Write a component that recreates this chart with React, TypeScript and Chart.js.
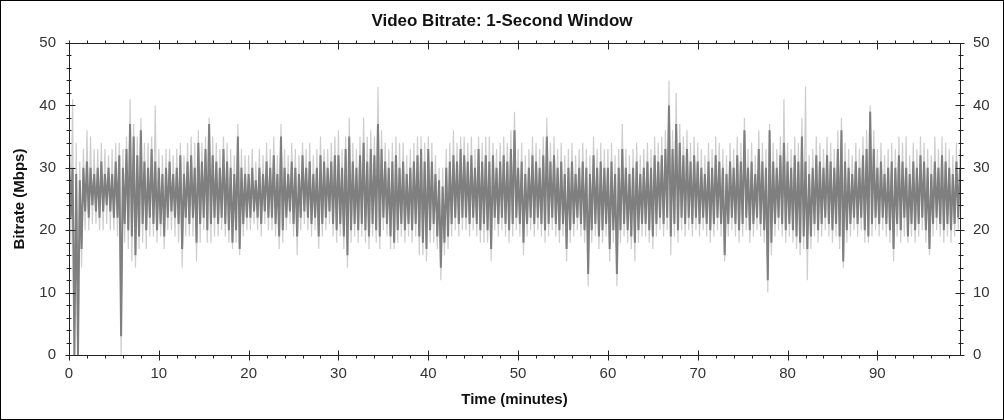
import { useEffect, useRef } from "react";
import { Chart, registerables } from "chart.js";

Chart.register(...registerables);

const TITLE = "Video Bitrate: 1-Second Window";
const X_TITLE = "Time (minutes)";
const Y_TITLE = "Bitrate (Mbps)";
const FONT = "Arial, 'Liberation Sans', Helvetica, sans-serif";

// time step between successive samples (minutes)
const STEP_MIN = 0.4;
const X_MIN = 0;
const X_MAX = 99.2;
const Y_MIN = 0;
const Y_MAX = 50;
const X_MAJOR = 10;
const X_MINOR = 2;
const Y_MAJOR = 10;
const Y_MINOR = 2;

// Dark series: local peaks / troughs (Mbps), one pair every STEP_MIN
const darkHigh = [
  33, 30, 29, 28, 30, 31, 30, 29, 30, 31, 29, 30, 29, 31, 32, 30, 33, 37, 35, 32, 36, 31, 30, 33, 31,
  30, 29, 30, 31, 29, 30, 32, 29, 31, 32, 30, 34, 31, 33, 37, 32, 31, 30, 33, 31, 30, 29, 35, 30, 29,
  29, 30, 28, 30, 29, 31, 30, 32, 29, 35, 30, 29, 31, 30, 29, 32, 30, 31, 29, 30, 32, 31, 30, 31, 32,
  32, 30, 33, 35, 31, 30, 32, 34, 31, 33, 32, 37, 33, 31, 30, 31, 32, 30, 31, 29, 30, 31, 32, 33, 31,
  33, 31, 29, 28, 27, 30, 31, 32, 31, 33, 32, 31, 32, 30, 33, 31, 32, 31, 32, 30, 31, 32, 31, 33, 36,
  30, 31, 29, 30, 32, 31, 30, 32, 35, 31, 32, 30, 31, 29, 30, 31, 29, 30, 31, 30, 29, 32, 30, 31, 30,
  30, 31, 29, 30, 33, 30, 29, 30, 31, 29, 30, 31, 30, 32, 31, 32, 33, 40, 33, 37, 34, 32, 33, 31, 32,
  31, 30, 29, 31, 30, 32, 31, 30, 29, 31, 30, 32, 31, 36, 30, 31, 29, 33, 31, 30, 36, 31, 30, 32, 34,
  31, 30, 32, 31, 35, 31, 29, 30, 32, 31, 30, 32, 31, 30, 33, 36, 31, 30, 29, 31, 30, 32, 33, 39, 33,
  30, 31, 29, 30, 31, 30, 32, 31, 30, 29, 31, 30, 32, 31, 30, 29, 31, 30, 32, 31, 30, 29, 31, 30,
];
const darkLow = [
  22, 0, 0, 17, 23, 22, 24, 23, 22, 23, 24, 23, 22, 22, 3, 21, 20, 19, 16, 19, 21, 20, 22, 21, 20,
  21, 19, 22, 23, 22, 21, 17, 22, 21, 22, 18, 21, 22, 20, 21, 22, 21, 22, 21, 20, 18, 20, 17, 21, 22,
  22, 23, 22, 21, 23, 22, 22, 21, 19, 20, 22, 23, 21, 19, 22, 23, 22, 21, 22, 19, 21, 22, 23, 21, 20,
  21, 19, 16, 20, 21, 20, 21, 20, 19, 21, 20, 19, 22, 21, 19, 18, 20, 21, 20, 21, 20, 21, 19, 18, 17,
  20, 21, 19, 14, 18, 19, 21, 22, 21, 22, 22, 21, 22, 21, 20, 21, 20, 17, 22, 21, 22, 21, 20, 21, 22,
  21, 18, 21, 22, 21, 22, 21, 20, 21, 22, 21, 20, 21, 17, 20, 21, 22, 21, 20, 13, 20, 21, 19, 20, 21,
  17, 20, 13, 20, 21, 20, 19, 18, 20, 21, 21, 20, 19, 21, 22, 21, 22, 19, 21, 20, 22, 21, 22, 21, 22,
  21, 22, 21, 20, 21, 22, 21, 16, 21, 22, 21, 20, 21, 22, 20, 21, 22, 21, 20, 12, 18, 21, 22, 21, 20,
  21, 20, 19, 18, 19, 17, 19, 21, 20, 21, 22, 21, 20, 21, 19, 15, 20, 21, 22, 21, 22, 20, 19, 21, 22,
  21, 22, 21, 20, 17, 21, 20, 22, 19, 21, 20, 21, 22, 20, 17, 21, 22, 21, 20, 21, 20, 21, 22, 21,
];

// Light series: local peaks / troughs (Mbps)
const lightHigh = [
  35, 41, 34, 31, 33, 36, 35, 33, 33, 34, 33, 32, 33, 34, 34, 33, 35, 41, 37, 35, 38, 34, 34, 35, 40,
  33, 32, 33, 33, 32, 33, 34, 32, 34, 35, 34, 36, 34, 35, 38, 35, 34, 33, 35, 34, 33, 32, 37, 33, 32,
  32, 33, 31, 33, 32, 34, 33, 35, 32, 37, 33, 32, 34, 33, 32, 34, 33, 34, 32, 33, 35, 33, 33, 34, 35,
  36, 33, 35, 38, 34, 33, 35, 38, 35, 36, 35, 43, 36, 34, 33, 34, 35, 34, 34, 32, 33, 34, 35, 35, 34,
  35, 34, 32, 30, 30, 33, 34, 36, 34, 35, 35, 34, 35, 33, 35, 34, 35, 35, 34, 33, 34, 35, 34, 36, 39,
  33, 34, 32, 33, 35, 34, 33, 35, 38, 34, 35, 33, 34, 32, 33, 34, 32, 33, 34, 33, 32, 35, 33, 34, 33,
  33, 34, 32, 33, 37, 33, 32, 33, 34, 32, 33, 34, 33, 35, 34, 35, 36, 44, 36, 42, 37, 35, 36, 34, 35,
  34, 33, 32, 34, 33, 35, 34, 33, 32, 34, 33, 35, 34, 38, 33, 34, 32, 36, 34, 33, 37, 34, 33, 35, 41,
  34, 33, 35, 34, 38, 43, 32, 33, 35, 34, 33, 35, 34, 33, 36, 38, 34, 33, 32, 34, 33, 35, 36, 40, 36,
  33, 34, 32, 33, 34, 33, 35, 34, 35, 32, 34, 33, 35, 34, 33, 32, 35, 33, 35, 34, 33, 32, 34, 33,
];
const lightLow = [
  18, 0, 0, 14, 20, 20, 21, 21, 20, 20, 21, 20, 20, 19, 0, 18, 17, 15, 14, 17, 18, 17, 19, 19, 18,
  19, 17, 20, 20, 19, 18, 14, 19, 19, 19, 15, 18, 20, 18, 18, 19, 19, 20, 19, 18, 17, 18, 16, 19, 20,
  20, 21, 20, 19, 21, 20, 20, 19, 17, 18, 20, 21, 19, 16, 20, 21, 20, 19, 20, 17, 19, 20, 21, 19, 18,
  19, 17, 14, 18, 19, 18, 19, 18, 17, 19, 18, 17, 20, 19, 17, 17, 18, 19, 18, 19, 18, 19, 16, 16, 15,
  18, 18, 17, 12, 16, 17, 19, 20, 19, 20, 20, 19, 20, 19, 18, 18, 18, 15, 20, 19, 20, 19, 18, 19, 20,
  19, 16, 19, 20, 19, 20, 19, 18, 19, 20, 19, 18, 19, 15, 18, 19, 20, 19, 18, 11, 18, 19, 17, 18, 19,
  15, 18, 11, 18, 19, 18, 17, 15, 18, 19, 19, 18, 17, 19, 20, 19, 20, 16, 19, 18, 20, 19, 20, 19, 20,
  19, 20, 19, 18, 19, 20, 19, 15, 19, 20, 19, 18, 19, 20, 18, 19, 20, 19, 18, 10, 16, 19, 20, 19, 18,
  19, 18, 17, 16, 17, 12, 17, 19, 18, 19, 20, 19, 18, 19, 17, 14, 18, 19, 20, 19, 20, 18, 18, 19, 20,
  19, 20, 19, 18, 15, 19, 18, 19, 18, 19, 18, 19, 20, 18, 16, 19, 20, 19, 18, 19, 18, 19, 20, 19,
];

function toPoints(high: number[], low: number[]) {
  const pts: { x: number; y: number }[] = [];
  for (let i = 0; i < high.length; i++) {
    pts.push({ x: i * STEP_MIN, y: high[i] });
    pts.push({ x: i * STEP_MIN + STEP_MIN / 2, y: low[i] });
  }
  return pts;
}

const framePlugin = {
  id: "frameTicks",
  afterDraw(chart: any) {
    const { ctx, chartArea: a, scales } = chart;
    const xs = scales.x;
    const ys = scales.y;
    const L = Math.round(a.left) + 0.5;
    const R = Math.round(a.right) + 0.5;
    const T = Math.round(a.top) + 0.5;
    const B = Math.round(a.bottom) + 0.5;
    ctx.save();
    ctx.strokeStyle = "#222";
    ctx.lineWidth = 1;
    ctx.strokeRect(L, T, R - L, B - T);
    ctx.beginPath();
    for (let v = X_MIN; v <= X_MAX; v += X_MINOR) {
      const px = Math.round(xs.getPixelForValue(v)) + 0.5;
      if (v % X_MAJOR === 0) {
        ctx.moveTo(px, B - 5);
        ctx.lineTo(px, B + 5);
        ctx.moveTo(px, T - 3);
        ctx.lineTo(px, T + 6);
      } else {
        ctx.moveTo(px, B);
        ctx.lineTo(px, B + 3);
        ctx.moveTo(px, T - 3);
        ctx.lineTo(px, T);
      }
    }
    for (let v = Y_MIN; v <= Y_MAX; v += Y_MINOR) {
      const py = Math.round(ys.getPixelForValue(v)) + 0.5;
      if (v % Y_MAJOR === 0) {
        ctx.moveTo(L - 4, py);
        ctx.lineTo(L + 6, py);
        ctx.moveTo(R - 5, py);
        ctx.lineTo(R + 4, py);
      } else {
        ctx.moveTo(L - 3, py);
        ctx.lineTo(L + 2, py);
        ctx.moveTo(R - 2, py);
        ctx.lineTo(R + 3, py);
      }
    }
    ctx.stroke();
    ctx.strokeStyle = "#000";
    ctx.strokeRect(0.5, 0.5, chart.width - 1, chart.height - 1);
    ctx.restore();
  },
};

export default function App() {
  const ref = useRef<HTMLCanvasElement | null>(null);

  useEffect(() => {
    if (!ref.current) return;
    const tickFont = { family: FONT, size: 15 };
    const titleFont = { family: FONT, size: 15, weight: "bold" as const };
    const chart = new Chart(ref.current, {
      type: "line",
      data: {
        datasets: [
          {
            label: "Bitrate",
            data: toPoints(darkHigh, darkLow),
            borderColor: "#7f7f7f",
            borderWidth: 2,
            pointRadius: 0,
            fill: false,
            tension: 0,
            order: 0,
          },
          {
            label: "Peak",
            data: toPoints(lightHigh, lightLow),
            borderColor: "#cdcdcd",
            borderWidth: 1.2,
            pointRadius: 0,
            fill: false,
            tension: 0,
            order: 1,
          },
        ],
      },
      options: {
        animation: false,
        responsive: false,
        parsing: false,
        normalized: true,
        events: [],
        layout: { padding: 0 },
        plugins: {
          legend: { display: false },
          tooltip: { enabled: false },
          title: {
            display: true,
            text: TITLE,
            color: "#111",
            font: { family: FONT, size: 17, weight: "bold" },
            padding: { top: 11, bottom: 11.6 },
          },
        },
        scales: {
          x: {
            type: "linear",
            position: "bottom",
            min: X_MIN,
            max: X_MAX,
            grid: { display: false, drawTicks: false },
            border: { display: false },
            ticks: {
              stepSize: X_MAJOR,
              includeBounds: false,
              autoSkip: false,
              maxRotation: 0,
              padding: 10,
              color: "#333",
              font: tickFont,
            },
            title: {
              display: true,
              text: X_TITLE,
              color: "#111",
              font: titleFont,
              padding: { top: 0, bottom: 11 },
            },
            afterFit: (s: any) => {
              s.height = 65;
            },
          },
          y: {
            type: "linear",
            position: "left",
            min: Y_MIN,
            max: Y_MAX,
            grid: { display: false, drawTicks: false },
            border: { display: false },
            ticks: { stepSize: Y_MAJOR, padding: 13, color: "#333", font: tickFont },
            title: {
              display: true,
              text: Y_TITLE,
              color: "#111",
              font: titleFont,
              padding: { top: 10.5, bottom: 0 },
            },
            afterFit: (s: any) => {
              s.width = 69;
            },
          },
          y2: {
            type: "linear",
            position: "right",
            min: Y_MIN,
            max: Y_MAX,
            grid: { display: false, drawTicks: false },
            border: { display: false },
            ticks: { stepSize: Y_MAJOR, padding: 13, color: "#333", font: tickFont },
            afterFit: (s: any) => {
              s.width = 44;
            },
          },
        },
      },
      plugins: [framePlugin],
    });
    return () => chart.destroy();
  }, []);

  return (
    <div style={{ position: "absolute", left: 0, top: 0, width: 1004, height: 420, background: "#fff" }}>
      <canvas ref={ref} width={1004} height={420} style={{ display: "block" }} />
    </div>
  );
}
